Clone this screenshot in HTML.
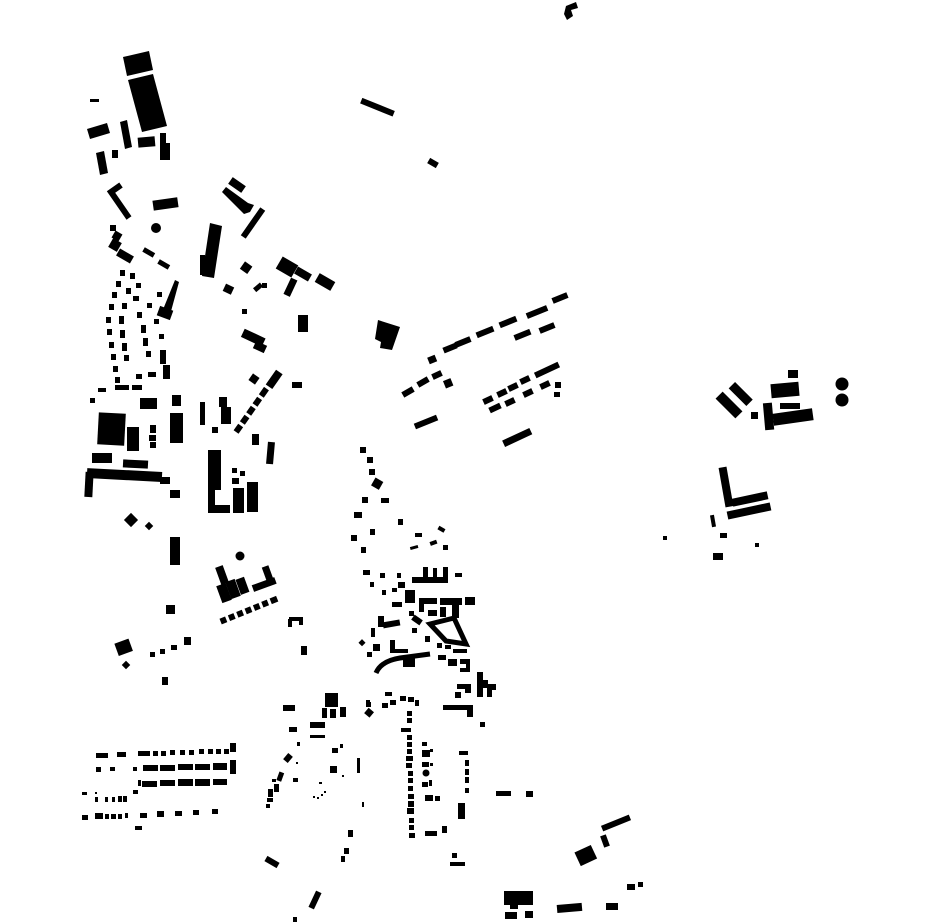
<!DOCTYPE html>
<html><head><meta charset="utf-8"><style>html,body{margin:0;padding:0;background:#fff}svg{display:block}</style></head>
<body>
<svg width="930" height="924" viewBox="0 0 930 924" xmlns="http://www.w3.org/2000/svg">
<g fill="#000">
<!-- top -->
<path d="M566,6 L576,2 L578,8 L571,10 L573,16 L567,20 L564,14 Z"/>
<rect x="360" y="104" width="35" height="6" transform="rotate(22 377 107)"/>
<rect x="428" y="160" width="10" height="6" transform="rotate(30 433 163)"/>
<!-- NW -->
<polygon points="123,57 149,51 153,70 127,76"/>
<polygon points="128,80 153,74 167,126 142,132"/>
<rect x="90" y="99" width="9" height="3"/>
<polygon points="87,129 107,123 110,133 90,139"/>
<polygon points="120,122 127,120 132,147 125,149"/>
<rect x="138" y="137" width="17" height="10" transform="rotate(-5 146 142)"/>
<rect x="160" y="133" width="6" height="14"/><rect x="160" y="143" width="10" height="17"/>
<polygon points="96,153 104,151 108,173 100,175"/>
<rect x="112" y="150" width="6" height="8"/>
<polyline points="121,185 111,192 129,218" fill="none" stroke="#000" stroke-width="6"/>
<rect x="153" y="199" width="25" height="10" transform="rotate(-8 165 204)"/>
<circle cx="156" cy="228" r="5"/>
<rect x="110" y="225" width="6" height="6"/>
<rect x="113" y="232" width="8" height="8" transform="rotate(30 117 236)"/>
<rect x="110" y="240" width="10" height="10" transform="rotate(30 115 245)"/>
<rect x="117" y="252" width="16" height="8" transform="rotate(30 125 256)"/>
<rect x="143" y="250" width="12" height="5" transform="rotate(30 149 252)"/>
<rect x="158" y="262" width="12" height="5" transform="rotate(30 164 264)"/>
<!-- curved rows -->
<g>
<rect x="120" y="270" width="5" height="6"/><rect x="116" y="281" width="5" height="6"/><rect x="112" y="292" width="5" height="6"/><rect x="109" y="304" width="5" height="6"/><rect x="106" y="317" width="5" height="6"/><rect x="107" y="329" width="5" height="6"/><rect x="109" y="342" width="5" height="6"/><rect x="111" y="354" width="5" height="6"/><rect x="113" y="366" width="5" height="6"/><rect x="115" y="377" width="5" height="6"/>
<rect x="130" y="273" width="5" height="6"/><rect x="126" y="288" width="5" height="6"/><rect x="122" y="303" width="5" height="6"/><rect x="119" y="316" width="5" height="8"/><rect x="120" y="330" width="5" height="8"/><rect x="122" y="343" width="5" height="8"/><rect x="124" y="355" width="5" height="6"/>
<rect x="136" y="283" width="5" height="5"/><rect x="133" y="296" width="6" height="5"/><rect x="137" y="312" width="5" height="6"/><rect x="141" y="325" width="5" height="8"/><rect x="143" y="338" width="5" height="8"/><rect x="146" y="351" width="5" height="6"/>
<rect x="157" y="292" width="5" height="5"/><rect x="147" y="303" width="5" height="5"/><rect x="154" y="319" width="5" height="5"/><rect x="159" y="334" width="5" height="5"/>
</g>
<polygon points="175,280 179,282 170,315 162,312"/>
<rect x="158" y="308" width="14" height="10" transform="rotate(20 165 313)"/>
<rect x="160" y="350" width="6" height="14"/><rect x="163" y="365" width="7" height="14"/>
<rect x="90" y="398" width="5" height="5"/><rect x="98" y="388" width="8" height="4"/><rect x="115" y="385" width="14" height="5"/><rect x="132" y="385" width="10" height="5"/><rect x="148" y="372" width="8" height="5"/><rect x="136" y="374" width="6" height="5"/>
<rect x="140" y="398" width="17" height="11"/><rect x="172" y="395" width="9" height="11"/>
<rect x="98" y="413" width="27" height="32" transform="rotate(3 111 429)"/>
<rect x="127" y="427" width="12" height="24"/>
<rect x="150" y="425" width="6" height="8"/><rect x="149" y="435" width="7" height="6"/><rect x="150" y="442" width="6" height="6"/>
<rect x="170" y="413" width="13" height="30"/>
<rect x="92" y="453" width="20" height="10"/>
<rect x="123" y="460" width="25" height="8" transform="rotate(3 135 464)"/>
<rect x="87" y="470" width="75" height="10" transform="rotate(3 124 475)"/>
<rect x="85" y="472" width="8" height="25" transform="rotate(3 89 484)"/>
<rect x="160" y="477" width="10" height="7"/>
<rect x="200" y="402" width="5" height="23"/>
<rect x="219" y="397" width="8" height="10"/><rect x="221" y="407" width="10" height="17"/>
<rect x="212" y="427" width="6" height="6"/>
<rect x="242" y="333" width="23" height="9" transform="rotate(25 253 337)"/>
<rect x="254" y="343" width="12" height="8" transform="rotate(25 260 347)"/>
<rect x="242" y="309" width="5" height="5"/>
<rect x="298" y="315" width="10" height="17"/>
<rect x="292" y="382" width="10" height="6"/>
<g transform="rotate(-55 255 405)">
<rect x="222" y="402" width="8" height="6"/><rect x="233" y="402" width="8" height="6"/><rect x="244" y="402" width="8" height="6"/><rect x="255" y="402" width="8" height="6"/><rect x="266" y="402" width="9" height="6"/><rect x="278" y="402" width="18" height="8"/>
</g>
<rect x="250" y="375" width="8" height="8" transform="rotate(35 254 379)"/>
<rect x="252" y="434" width="7" height="11"/>
<rect x="267" y="442" width="7" height="22" transform="rotate(5 270 453)"/>
<rect x="208" y="450" width="13" height="40"/>
<rect x="208" y="488" width="7" height="25"/><rect x="208" y="505" width="22" height="8"/>
<rect x="233" y="488" width="11" height="25"/><rect x="247" y="482" width="11" height="30"/>
<rect x="232" y="468" width="5" height="5"/><rect x="240" y="471" width="5" height="5"/><rect x="232" y="478" width="7" height="6"/>
<rect x="170" y="490" width="10" height="8"/>
<rect x="126" y="515" width="10" height="10" transform="rotate(45 131 520)"/>
<rect x="146" y="523" width="6" height="6" transform="rotate(45 149 526)"/>
<!-- NW upper right -->
<rect x="229" y="181" width="16" height="8" transform="rotate(35 237 185)"/>
<polygon points="222,192 226,187 248,203 254,205 250,212 244,214"/>
<rect x="250" y="206" width="6" height="34" transform="rotate(35 253 223)"/>
<polygon points="210,223 222,226 214,278 202,276"/>
<rect x="200" y="255" width="5" height="20"/>
<rect x="242" y="263" width="9" height="9" transform="rotate(35 246 267)"/>
<rect x="278" y="260" width="18" height="14" transform="rotate(30 287 267)"/>
<rect x="295" y="270" width="16" height="8" transform="rotate(30 303 274)"/>
<rect x="316" y="277" width="18" height="10" transform="rotate(30 325 282)"/>
<rect x="287" y="278" width="7" height="18" transform="rotate(25 290 287)"/>
<rect x="224" y="285" width="9" height="8" transform="rotate(25 228 289)"/>
<rect x="254" y="285" width="9" height="5" transform="rotate(-40 258 288)"/>
<rect x="262" y="283" width="5" height="5"/>
<!-- center north -->
<polygon points="378,320 400,327 392,350 380,348 381,342 375,339"/>
<g transform="rotate(-22 500 330)">
<rect x="428" y="356" width="8" height="8"/>
</g>
<rect x="428" y="356" width="8" height="7" transform="rotate(-22 432 359)"/>
<rect x="443" y="345" width="14" height="6" transform="rotate(-22 450 348)"/>
<rect x="455" y="339" width="16" height="6" transform="rotate(-22 463 342)"/>
<rect x="476" y="329" width="18" height="6" transform="rotate(-22 485 332)"/>
<rect x="499" y="319" width="18" height="6" transform="rotate(-22 508 322)"/>
<rect x="526" y="309" width="22" height="6" transform="rotate(-22 537 312)"/>
<rect x="552" y="295" width="16" height="6" transform="rotate(-22 560 298)"/>
<rect x="514" y="332" width="17" height="6" transform="rotate(-22 522 335)"/>
<rect x="539" y="325" width="16" height="6" transform="rotate(-22 547 328)"/>
<rect x="402" y="389" width="12" height="6" transform="rotate(-30 408 392)"/>
<rect x="417" y="379" width="12" height="6" transform="rotate(-30 423 382)"/>
<rect x="432" y="372" width="10" height="6" transform="rotate(-25 437 375)"/>
<rect x="414" y="419" width="24" height="6" transform="rotate(-22 426 422)"/>
<rect x="483" y="397" width="10" height="6" transform="rotate(-25 488 400)"/>
<rect x="497" y="390" width="10" height="6" transform="rotate(-25 502 393)"/>
<rect x="508" y="384" width="10" height="6" transform="rotate(-25 513 387)"/>
<rect x="520" y="377" width="10" height="6" transform="rotate(-25 525 380)"/>
<rect x="534" y="367" width="26" height="6" transform="rotate(-25 547 370)"/>
<rect x="489" y="405" width="12" height="6" transform="rotate(-25 495 408)"/>
<rect x="505" y="399" width="10" height="6" transform="rotate(-25 510 402)"/>
<rect x="523" y="390" width="10" height="6" transform="rotate(-25 528 393)"/>
<rect x="540" y="382" width="10" height="6" transform="rotate(-25 545 385)"/>
<rect x="555" y="382" width="6" height="6"/><rect x="554" y="392" width="6" height="5"/>
<rect x="502" y="434" width="30" height="7" transform="rotate(-25 517 437)"/>
<!-- center column -->
<rect x="360" y="447" width="6" height="6"/><rect x="367" y="457" width="6" height="6"/><rect x="369" y="469" width="6" height="6"/>
<rect x="373" y="479" width="9" height="9" transform="rotate(30 377 483)"/>
<rect x="362" y="497" width="6" height="6"/><rect x="381" y="498" width="8" height="5"/>
<rect x="354" y="512" width="8" height="6"/><rect x="398" y="519" width="5" height="6"/>
<rect x="351" y="535" width="6" height="6"/><rect x="370" y="529" width="5" height="6"/><rect x="361" y="547" width="5" height="6"/>
<rect x="415" y="533" width="7" height="4"/><rect x="438" y="527" width="7" height="4" transform="rotate(30 441 529)"/>
<rect x="410" y="546" width="8" height="3" transform="rotate(-15 414 547)"/><rect x="430" y="541" width="7" height="4" transform="rotate(-20 433 543)"/><rect x="443" y="545" width="5" height="5"/>
<!-- dense center -->
<rect x="363" y="570" width="7" height="5"/><rect x="380" y="573" width="5" height="5"/><rect x="397" y="573" width="4" height="5"/><rect x="370" y="582" width="4" height="5"/><rect x="382" y="590" width="4" height="5"/><rect x="392" y="588" width="5" height="4"/><rect x="398" y="582" width="7" height="6"/>
<rect x="412" y="577" width="36" height="6"/><rect x="423" y="567" width="5" height="11"/><rect x="433" y="568" width="4" height="10"/><rect x="443" y="567" width="5" height="11"/><rect x="455" y="573" width="7" height="4"/>
<rect x="405" y="590" width="10" height="13"/><rect x="392" y="602" width="10" height="5"/>
<rect x="420" y="598" width="17" height="6"/><rect x="419" y="598" width="5" height="14"/><rect x="428" y="610" width="9" height="6"/>
<rect x="440" y="598" width="22" height="7"/><rect x="452" y="598" width="7" height="20"/><rect x="440" y="607" width="6" height="10"/>
<rect x="465" y="597" width="10" height="8"/>
<path d="M430,624 L454,618 L466,644 L446,641 Z" fill="none" stroke="#000" stroke-width="5"/>
<rect x="378" y="616" width="6" height="11"/><rect x="383" y="621" width="17" height="6" transform="rotate(-10 391 624)"/>
<rect x="409" y="611" width="5" height="5"/><rect x="412" y="617" width="10" height="6" transform="rotate(35 417 620)"/>
<rect x="412" y="628" width="5" height="5"/><rect x="425" y="636" width="5" height="6"/>
<rect x="371" y="628" width="4" height="9"/>
<rect x="360" y="640" width="5" height="5" transform="rotate(45 362 642)"/><rect x="373" y="644" width="7" height="7"/><rect x="367" y="652" width="5" height="5"/>
<rect x="390" y="640" width="5" height="10"/><rect x="390" y="649" width="18" height="4"/>
<path d="M376,673 Q381,661 400,658 L430,654" fill="none" stroke="#000" stroke-width="5"/>
<rect x="403" y="657" width="12" height="10"/>
<rect x="437" y="643" width="5" height="5"/><rect x="445" y="645" width="6" height="4"/><rect x="453" y="649" width="14" height="4"/>
<rect x="438" y="655" width="8" height="5"/><rect x="448" y="659" width="9" height="7"/>
<path d="M460,659 L470,659 L470,672 L460,672 L460,668 L466,668 L466,664 L460,664 Z"/>
<rect x="477" y="672" width="6" height="25"/><rect x="483" y="680" width="5" height="8"/><rect x="487" y="684" width="5" height="13"/><rect x="488" y="684" width="8" height="6"/>
<rect x="457" y="684" width="13" height="5"/><rect x="465" y="684" width="6" height="9"/><rect x="455" y="692" width="6" height="6"/>
<rect x="443" y="705" width="30" height="5"/><rect x="467" y="706" width="6" height="11"/>
<rect x="480" y="722" width="5" height="5"/>
<rect x="385" y="692" width="7" height="4"/><rect x="400" y="696" width="6" height="5"/><rect x="408" y="697" width="6" height="5"/><rect x="415" y="700" width="4" height="6"/>
<rect x="366" y="709" width="7" height="7" transform="rotate(40 369 712)"/><rect x="367" y="702" width="4" height="5"/><rect x="382" y="703" width="6" height="5"/><rect x="390" y="700" width="6" height="5"/>
<!-- column south -->
<g>
<rect x="407" y="711" width="5" height="5"/><rect x="407" y="718" width="5" height="5"/><rect x="401" y="728" width="10" height="4"/><rect x="407" y="735" width="5" height="5"/><rect x="407" y="742" width="5" height="5"/><rect x="407" y="749" width="5" height="5"/><rect x="406" y="756" width="7" height="5"/><rect x="406" y="763" width="6" height="5"/><rect x="408" y="771" width="5" height="5"/><rect x="408" y="778" width="5" height="5"/><rect x="408" y="786" width="5" height="5"/><rect x="408" y="794" width="6" height="5"/><rect x="408" y="801" width="6" height="6"/><rect x="407" y="808" width="7" height="6"/><rect x="409" y="818" width="5" height="5"/><rect x="409" y="825" width="5" height="5"/><rect x="409" y="833" width="6" height="5"/>
</g>
<rect x="422" y="742" width="5" height="4"/><rect x="422" y="750" width="8" height="7"/><rect x="430" y="749" width="3" height="3"/><rect x="422" y="762" width="7" height="5"/><rect x="430" y="763" width="3" height="3"/><circle cx="426" cy="773" r="3.5"/><rect x="422" y="782" width="6" height="5"/><rect x="429" y="780" width="3" height="6"/><rect x="425" y="795" width="8" height="6"/><rect x="435" y="796" width="5" height="5"/>
<rect x="458" y="803" width="7" height="16"/>
<rect x="425" y="831" width="12" height="5"/><rect x="442" y="826" width="5" height="7"/>
<rect x="459" y="751" width="9" height="4"/><rect x="465" y="760" width="4" height="6"/><rect x="465" y="769" width="4" height="6"/><rect x="465" y="777" width="4" height="6"/><rect x="465" y="788" width="4" height="5"/>
<rect x="452" y="853" width="5" height="5"/><rect x="450" y="862" width="15" height="4"/>
<rect x="496" y="791" width="15" height="5"/><rect x="526" y="791" width="7" height="6"/>
<!-- SE -->
<rect x="601" y="820" width="30" height="6" transform="rotate(-22 616 823)"/>
<rect x="602" y="835" width="6" height="12" transform="rotate(-20 605 841)"/>
<rect x="577" y="848" width="18" height="15" transform="rotate(-25 586 856)"/>
<rect x="627" y="884" width="8" height="6"/><rect x="638" y="882" width="5" height="5"/>
<rect x="504" y="891" width="29" height="14"/><rect x="505" y="912" width="12" height="7"/><rect x="525" y="911" width="8" height="7"/><rect x="510" y="903" width="8" height="6"/>
<rect x="557" y="904" width="25" height="8" transform="rotate(-5 569 908)"/>
<rect x="606" y="903" width="12" height="7"/>
<!-- SW centre -->
<rect x="170" y="537" width="10" height="28"/>
<circle cx="240" cy="556" r="4.5"/>
<rect x="218" y="566" width="8" height="18" transform="rotate(-20 222 575)"/>
<rect x="219" y="584" width="10" height="18" transform="rotate(-20 224 593)"/>
<rect x="228" y="580" width="10" height="18" transform="rotate(-20 233 589)"/>
<rect x="238" y="578" width="9" height="16" transform="rotate(-20 242 586)"/>
<rect x="265" y="566" width="7" height="20" transform="rotate(-20 268 576)"/>
<rect x="252" y="581" width="24" height="7" transform="rotate(-20 264 584)"/>
<g transform="rotate(-22 249 609)">
<rect x="218" y="607" width="6" height="6"/><rect x="227" y="607" width="6" height="6"/><rect x="236" y="607" width="6" height="6"/><rect x="245" y="607" width="6" height="6"/><rect x="254" y="607" width="6" height="6"/><rect x="263" y="607" width="6" height="6"/><rect x="272" y="607" width="7" height="6"/>
</g>
<rect x="166" y="605" width="9" height="9"/>
<rect x="116" y="641" width="15" height="13" transform="rotate(-20 123 647)"/>
<rect x="123" y="662" width="6" height="6" transform="rotate(45 126 665)"/>
<rect x="150" y="652" width="5" height="5"/><rect x="160" y="649" width="5" height="5"/><rect x="171" y="645" width="6" height="5"/><rect x="184" y="637" width="7" height="8"/>
<rect x="162" y="677" width="6" height="8"/>
<rect x="289" y="617" width="12" height="4"/><rect x="288" y="619" width="4" height="8"/><rect x="299" y="617" width="4" height="8"/>
<rect x="301" y="646" width="6" height="9"/>
<rect x="283" y="705" width="12" height="6"/>
<rect x="325" y="693" width="13" height="14"/>
<rect x="322" y="708" width="5" height="10"/><rect x="330" y="709" width="6" height="9"/><rect x="340" y="707" width="6" height="10"/>
<rect x="310" y="722" width="15" height="6"/><rect x="310" y="735" width="15" height="3"/>
<rect x="289" y="727" width="8" height="5"/>
<rect x="297" y="742" width="3" height="4"/>
<rect x="332" y="748" width="6" height="5"/><rect x="340" y="744" width="3" height="4"/>
<rect x="285" y="754" width="6" height="8" transform="rotate(40 288 758)"/>
<rect x="296" y="762" width="2" height="2"/>
<rect x="357" y="758" width="3" height="15"/>
<rect x="330" y="766" width="7" height="7"/><rect x="342" y="775" width="2" height="2"/>
<rect x="293" y="778" width="5" height="4"/><rect x="319" y="782" width="3" height="2"/>
<rect x="313" y="796" width="2" height="2"/><rect x="317" y="797" width="2" height="2"/><rect x="321" y="794" width="2" height="2"/><rect x="324" y="791" width="2" height="2"/>
<rect x="366" y="700" width="4" height="7"/>
<rect x="278" y="772" width="5" height="9" transform="rotate(20 280 776)"/><rect x="272" y="779" width="4" height="3"/><rect x="274" y="784" width="5" height="8"/><rect x="268" y="789" width="5" height="8"/><rect x="267" y="798" width="6" height="4"/><rect x="266" y="804" width="4" height="4"/>
<rect x="362" y="802" width="2" height="5"/>
<rect x="348" y="830" width="5" height="7"/><rect x="344" y="848" width="5" height="6"/><rect x="341" y="856" width="4" height="6"/>
<rect x="265" y="859" width="14" height="6" transform="rotate(30 272 862)"/>
<rect x="312" y="891" width="6" height="18" transform="rotate(25 315 900)"/>
<rect x="293" y="917" width="4" height="5"/>
<!-- SW grid -->
<rect x="96" y="753" width="12" height="5"/><rect x="117" y="752" width="9" height="5"/><rect x="138" y="751" width="12" height="5"/>
<rect x="153" y="751" width="5" height="5"/><rect x="161" y="751" width="5" height="5"/><rect x="170" y="750" width="5" height="5"/><rect x="180" y="750" width="5" height="5"/><rect x="189" y="750" width="5" height="5"/><rect x="199" y="749" width="5" height="5"/><rect x="208" y="749" width="5" height="5"/><rect x="216" y="749" width="5" height="5"/><rect x="224" y="749" width="5" height="5"/><rect x="230" y="743" width="6" height="9"/>
<rect x="96" y="767" width="5" height="5"/><rect x="110" y="767" width="5" height="4"/><rect x="133" y="767" width="4" height="4"/>
<rect x="143" y="765" width="15" height="6"/><rect x="160" y="765" width="15" height="6"/><rect x="178" y="764" width="15" height="6"/><rect x="195" y="764" width="15" height="6"/><rect x="213" y="763" width="14" height="7"/><rect x="230" y="760" width="6" height="14"/>
<rect x="138" y="780" width="3" height="6"/><rect x="142" y="781" width="15" height="6"/><rect x="160" y="780" width="15" height="6"/><rect x="178" y="779" width="15" height="7"/><rect x="195" y="779" width="15" height="7"/><rect x="213" y="779" width="14" height="6"/>
<rect x="133" y="790" width="5" height="4"/>
<rect x="82" y="792" width="5" height="3"/><rect x="95" y="792" width="2" height="2"/><rect x="95" y="797" width="3" height="5"/><rect x="105" y="797" width="3" height="5"/><rect x="112" y="797" width="3" height="5"/><rect x="118" y="796" width="4" height="6"/><rect x="123" y="796" width="4" height="6"/>
<rect x="82" y="815" width="6" height="5"/><rect x="95" y="813" width="8" height="6"/><rect x="105" y="814" width="4" height="5"/><rect x="111" y="814" width="5" height="5"/><rect x="118" y="814" width="4" height="5"/><rect x="125" y="813" width="3" height="5"/>
<rect x="140" y="813" width="7" height="5"/><rect x="157" y="811" width="7" height="6"/><rect x="175" y="811" width="7" height="5"/><rect x="193" y="810" width="6" height="5"/><rect x="212" y="809" width="6" height="5"/>
<rect x="135" y="826" width="7" height="4"/>
<!-- east -->
<rect x="724" y="391" width="10" height="28" transform="rotate(-45 729 405)"/>
<rect x="736" y="382" width="9" height="25" transform="rotate(-45 740 394)"/>
<rect x="788" y="370" width="10" height="8"/>
<rect x="771" y="383" width="28" height="14" transform="rotate(-5 785 390)"/>
<rect x="751" y="412" width="7" height="7"/>
<rect x="764" y="403" width="9" height="27" transform="rotate(-5 768 416)"/>
<rect x="773" y="411" width="40" height="12" transform="rotate(-8 793 417)"/>
<rect x="780" y="403" width="20" height="6"/>
<circle cx="842" cy="384" r="6.5"/><circle cx="842" cy="400" r="6.5"/>
<rect x="722" y="467" width="8" height="40" transform="rotate(-10 726 487)"/>
<rect x="732" y="495" width="36" height="8" transform="rotate(-12 750 499)"/>
<rect x="727" y="507" width="44" height="8" transform="rotate(-12 749 511)"/>
<rect x="711" y="515" width="4" height="12" transform="rotate(-10 713 521)"/>
<rect x="720" y="533" width="7" height="5"/><rect x="755" y="543" width="4" height="4"/><rect x="713" y="553" width="10" height="7"/>
<rect x="663" y="536" width="4" height="4"/>
</g>
</svg>
</body></html>
